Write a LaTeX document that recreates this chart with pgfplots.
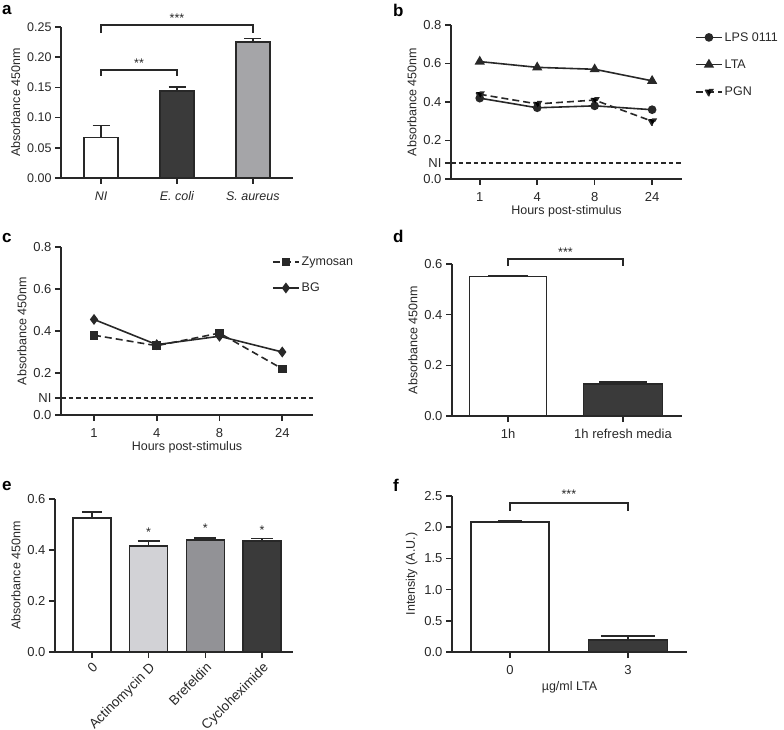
\documentclass[border=0pt]{standalone}
\usepackage{pgfplots}
\pgfplotsset{compat=1.18}
\usepackage{fontspec}
\setmainfont{Liberation Sans}
\definecolor{axc}{RGB}{40,40,40}
\definecolor{darkbar}{RGB}{58,58,58}
\definecolor{midgrey}{RGB}{165,165,168}
\definecolor{lightgrey}{RGB}{210,210,214}
\definecolor{brefgrey}{RGB}{146,146,150}
\newcommand{\fs}{\fontsize{12.5}{14}\selectfont}
\newcommand{\ft}{\fontsize{13}{15}\selectfont}
\newcommand{\fl}{\bfseries\fontsize{17}{17}\selectfont}
\pgfplotsset{
 prism/.style={
  scale only axis,
  anchor=south west,
  axis x line=bottom, axis y line=left,
  axis line style={line width=1.6pt, draw=axc, -},
  every tick/.style={line width=1.6pt, draw=axc},
  tick align=outside,
  major tick length=6pt,
  tick label style={font=\ft, text=axc},
  xticklabel shift=4pt,
  label style={font=\fs, text=axc},
  /pgf/number format/assume math mode=true,
  clip=false,
  legend cell align=left,
  legend image code/.code={\draw[mark repeat=2,mark phase=2,##1] plot coordinates {(0pt,0pt) (13pt,0pt) (26pt,0pt)};},
 },
 barst/.style={ybar, bar width=#1, bar shift=0pt, draw=axc, line width=1.6pt,
   error bars/y dir=plus, error bars/y explicit,
   error bars/error bar style={line width=1.6pt, draw=axc, solid}},
 cap/.style={error bars/error mark options={line width=1.6pt, draw=axc, mark size=#1, rotate=90}},
 ln/.style={line width=1.6pt, draw=axc, mark options={solid, fill=axc, draw=axc}},
}
\begin{document}
\begin{tikzpicture}[x=1pt,y=1pt]
\useasboundingbox (0,0) rectangle (784,729);
% panel letters
\node[font=\fl, anchor=base west, inner sep=0pt] at (2,714) {a};
\node[font=\fl, anchor=base west, inner sep=0pt] at (393,712) {b};
\node[font=\fl, anchor=base west, inner sep=0pt] at (2,486) {c};
\node[font=\fl, anchor=base west, inner sep=0pt] at (393,486) {d};
\node[font=\fl, anchor=base west, inner sep=0pt] at (2,239) {e};
\node[font=\fl, anchor=base west, inner sep=0pt] at (393,238) {f};

% ---------- a ----------
\begin{axis}[prism, at={(61pt,551pt)}, width=232pt, height=151pt,
 tick label style={font=\fs},
 xmin=-0.53, xmax=2.53, ymin=0, ymax=0.25,
 xtick={0,1,2}, xticklabels={\textit{NI},\textit{E. coli},\textit{S. aureus}},
 ytick={0,0.05,0.1,0.15,0.2,0.25}, yticklabels={0.00,0.05,0.10,0.15,0.20,0.25},
 ylabel={Absorbance 450nm}]
\addplot[barst=34pt, fill=white, cap=8.5pt] coordinates {(0,0.067) +- (0,0.020)};
\addplot[barst=34pt, fill=darkbar, cap=8.5pt] coordinates {(1,0.144) +- (0,0.007)};
\addplot[barst=34pt, fill=midgrey, cap=8.5pt] coordinates {(2,0.225) +- (0,0.006)};
\draw[line width=1.4pt, axc] (axis cs:0,0.169) -- (axis cs:0,0.179) -- (axis cs:1,0.179) -- (axis cs:1,0.169);
\node[font=\fs, axc] at (axis cs:0.5,0.190) {**};
\draw[line width=1.4pt, axc] (axis cs:0,0.240) -- (axis cs:0,0.253) -- (axis cs:2,0.253) -- (axis cs:2,0.240);
\node[font=\fs, axc] at (axis cs:1,0.264) {***};
\end{axis}

% ---------- b ----------
\begin{axis}[prism, at={(451pt,550pt)}, width=231pt, height=154pt,
 xmin=-0.5, xmax=3.52, ymin=0, ymax=0.8,
 xtick={0,1,2,3}, xticklabels={1,4,8,24},
 ytick={0,0.083,0.2,0.4,0.6,0.8}, yticklabels={0.0,NI,0.2,0.4,0.6,0.8},
 ylabel={Absorbance 450nm}, xlabel={Hours post-stimulus},
 xlabel style={yshift=3pt},
 legend style={at={(1.056,0.967)}, anchor=north west, draw=none, fill=none, font=\fs, row sep=13pt, inner sep=0pt, text=axc}]
\addplot[ln, mark=*, mark size=3.5pt] coordinates {(0,0.42)(1,0.37)(2,0.38)(3,0.36)};
\addlegendentry{LPS 0111}
\addplot[ln, mark=triangle*, mark size=4.3pt] coordinates {(0,0.61)(1,0.58)(2,0.57)(3,0.51)};
\addlegendentry{LTA}
\addplot[ln, dash pattern=on 7pt off 4pt, mark=triangle*, mark size=4.3pt, mark options={rotate=180}] coordinates {(0,0.44)(1,0.39)(2,0.41)(3,0.30)};
\addlegendentry{PGN}
\addplot[line width=1.6pt, axc, dash pattern=on 4.5pt off 3pt, forget plot] coordinates {(-0.5,0.083)(3.52,0.083)};
\end{axis}

% ---------- c ----------
\begin{axis}[prism, at={(61pt,314pt)}, width=252pt, height=168pt,
 xmin=-0.526, xmax=3.49, ymin=0, ymax=0.8,
 xtick={0,1,2,3}, xticklabels={1,4,8,24},
 ytick={0,0.08,0.2,0.4,0.6,0.8}, yticklabels={0.0,NI,0.2,0.4,0.6,0.8},
 ylabel={Absorbance 450nm}, xlabel={Hours post-stimulus},
 xlabel style={yshift=3pt},
 legend style={at={(0.837,0.955)}, anchor=north west, draw=none, fill=none, font=\fs, row sep=12pt, inner sep=0pt, text=axc}]
\addplot[ln, dash pattern=on 7pt off 4pt, mark=square*, mark size=3.5pt] coordinates {(0,0.38)(1,0.33)(2,0.39)(3,0.22)};
\addlegendentry{Zymosan}
\addplot[ln, mark=diamond*, mark size=4.2pt] coordinates {(0,0.455)(1,0.335)(2,0.375)(3,0.30)};
\addlegendentry{BG}
\addplot[line width=1.6pt, axc, dash pattern=on 4.5pt off 3pt, forget plot] coordinates {(-0.526,0.08)(3.49,0.08)};
\end{axis}

% ---------- d ----------
\begin{axis}[prism, at={(452pt,313pt)}, width=230pt, height=152pt,
 xmin=-0.487, xmax=1.513, ymin=0, ymax=0.6,
 xtick={0,1}, xticklabels={1h,1h refresh media},
 ytick={0,0.2,0.4,0.6}, yticklabels={0.0,0.2,0.4,0.6},
 ylabel={Absorbance 450nm}]
\addplot[barst=77pt, fill=white, cap=20pt] coordinates {(0,0.55) +- (0,0.002)};
\addplot[barst=79pt, fill=darkbar, cap=24pt] coordinates {(1,0.127) +- (0,0.007)};
\draw[line width=1.4pt, axc] (axis cs:0,0.592) -- (axis cs:0,0.620) -- (axis cs:1,0.620) -- (axis cs:1,0.592);
\node[font=\fs, axc] at (axis cs:0.5,0.645) {***};
\end{axis}

% ---------- e ----------
\begin{axis}[prism, at={(55pt,77pt)}, width=238pt, height=153pt,
 xmin=-0.65, xmax=3.545, ymin=0, ymax=0.6,
 xtick={0,1,2,3}, xticklabels={0,Actinomycin D,Brefeldin,Cycloheximide},
 xticklabel shift=2pt,
 xticklabel style={rotate=45, anchor=north east, inner sep=1pt, font=\fontsize{13.5}{15}\selectfont},
 ytick={0,0.2,0.4,0.6}, yticklabels={0.0,0.2,0.4,0.6},
 ylabel={Absorbance 450nm}]
\addplot[barst=38pt, fill=white, cap=10pt] coordinates {(0,0.525) +- (0,0.025)};
\addplot[barst=38pt, fill=lightgrey, cap=11pt] coordinates {(1,0.415) +- (0,0.020)};
\addplot[barst=38pt, fill=brefgrey, cap=11pt] coordinates {(2,0.440) +- (0,0.007)};
\addplot[barst=38pt, fill=darkbar, cap=11pt] coordinates {(3,0.435) +- (0,0.010)};
\node[font=\fs, axc] at (axis cs:1,0.470) {*};
\node[font=\fs, axc] at (axis cs:2,0.485) {*};
\node[font=\fs, axc] at (axis cs:3,0.478) {*};
\end{axis}

% ---------- f ----------
\begin{axis}[prism, at={(452pt,77pt)}, width=235pt, height=156pt,
 xmin=-0.49, xmax=1.5, ymin=0, ymax=2.5,
 xtick={0,1}, xticklabels={0,3},
 ytick={0,0.5,1,1.5,2,2.5}, yticklabels={0.0,0.5,1.0,1.5,2.0,2.5},
 ylabel={Intensity (A.U.)}, xlabel={µg/ml LTA}]
\addplot[barst=78pt, fill=white, cap=12pt] coordinates {(0,2.08) +- (0,0.03)};
\addplot[barst=79pt, fill=darkbar, cap=27pt] coordinates {(1,0.19) +- (0,0.07)};
\draw[line width=1.4pt, axc] (axis cs:0,2.26) -- (axis cs:0,2.39) -- (axis cs:1,2.39) -- (axis cs:1,2.26);
\node[font=\fs, axc] at (axis cs:0.5,2.53) {***};
\end{axis}
\end{tikzpicture}
\end{document}
